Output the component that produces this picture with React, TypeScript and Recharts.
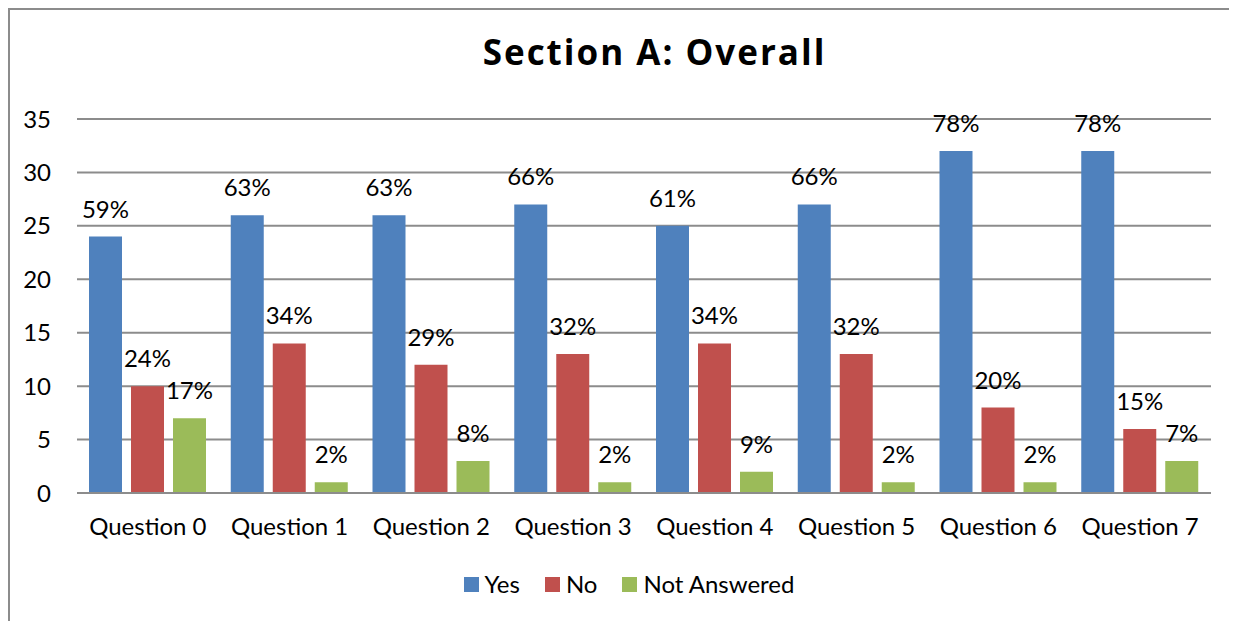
import React from "react"
import { BarChart, Bar, XAxis, YAxis, CartesianGrid, Legend, LabelList } from "recharts"

const categories = ["Question 0", "Question 1", "Question 2", "Question 3", "Question 4", "Question 5", "Question 6", "Question 7"]
const yesCounts = [24, 26, 26, 27, 25, 27, 32, 32]
const noCounts = [10, 14, 12, 13, 14, 13, 8, 6]
const naCounts = [7, 1, 3, 1, 2, 1, 1, 3]
const yesLabels = ["59%", "63%", "63%", "66%", "61%", "66%", "78%", "78%"]
const noLabels = ["24%", "34%", "29%", "32%", "34%", "32%", "20%", "15%"]
const naLabels = ["17%", "2%", "8%", "2%", "9%", "2%", "2%", "7%"]
const seriesNames = ["Yes", "No", "Not Answered"]
const yTicks = [0, 5, 10, 15, 20, 25, 30, 35]

const FONT = "Lato, 'Open Sans', sans-serif"

const data = categories.map((name, i) => ({
  name,
  yes: yesCounts[i],
  no: noCounts[i],
  na: naCounts[i],
  yesPct: yesLabels[i],
  noPct: noLabels[i],
  naPct: naLabels[i],
}))

// keep legend in series order (Recharts sorts by name)
const renderLegend = (props: any) => {
  const items = [...(props.payload || [])].sort(
    (a: any, b: any) => seriesNames.indexOf(a.value) - seriesNames.indexOf(b.value)
  )
  return (
    <div style={{ display: "flex", justifyContent: "center", fontFamily: FONT, fontSize: 24, color: "#000", lineHeight: "28px" }}>
      {items.map((entry: any, index: number) => (
        <div key={index} style={{ display: "flex", alignItems: "center", marginRight: index < items.length - 1 ? 25 : 0 }}>
          <span style={{ display: "inline-block", width: 15, height: 15, background: entry.color, marginRight: 6 }} />
          <span>{entry.value}</span>
        </div>
      ))}
    </div>
  )
}

export default function App() {
  return (
    <div
      style={{
        position: "relative",
        width: 1229,
        height: 613,
        borderTop: "2px solid #8c8c8c",
        borderLeft: "2px solid #8c8c8c",
        boxSizing: "border-box",
        background: "#fff",
      }}
    >
      <div
        style={{
          position: "absolute",
          left: 0,
          width: 1289,
          top: 18,
          textAlign: "center",
          fontFamily: "'Open Sans', sans-serif",
          fontWeight: 700,
          fontSize: 35,
          letterSpacing: 2,
          color: "#000",
        }}
      >
        Section A: Overall
      </div>
      <BarChart
        width={1227}
        height={611}
        data={data}
        margin={{ top: 109, right: 26, bottom: 70, left: 0 }}
        barSize={33}
        barGap={9}
        style={{ position: "absolute", left: 0, top: 0 }}
      >
        <CartesianGrid vertical={false} stroke="#8c8c8c" strokeWidth={2} />
        <XAxis
          dataKey="name"
          tickLine={false}
          axisLine={{ stroke: "#8c8c8c", strokeWidth: 2 }}
          tickSize={0}
          tickMargin={25}
          tick={{ fill: "#000", fontSize: 24, fontFamily: FONT }}
          interval={0}
        />
        <YAxis
          domain={[0, 35]}
          ticks={yTicks}
          width={67}
          tickLine={false}
          axisLine={false}
          tickSize={0}
          tickMargin={26}
          tick={{ fill: "#000", fontSize: 24, fontFamily: FONT }}
        />
        <Legend
          verticalAlign="bottom"
          content={renderLegend}
          wrapperStyle={{ left: 0, width: 1238, top: 560, bottom: "auto" }}
        />
        <Bar dataKey="yes" name="Yes" fill="#4f81bd" isAnimationActive={false}>
          <LabelList dataKey="yesPct" position="top" offset={19} fill="#000" fontSize={24} fontFamily={FONT} />
        </Bar>
        <Bar dataKey="no" name="No" fill="#c0504d" isAnimationActive={false}>
          <LabelList dataKey="noPct" position="top" offset={19} fill="#000" fontSize={24} fontFamily={FONT} />
        </Bar>
        <Bar dataKey="na" name="Not Answered" fill="#9bbb59" isAnimationActive={false}>
          <LabelList dataKey="naPct" position="top" offset={19} fill="#000" fontSize={24} fontFamily={FONT} />
        </Bar>
      </BarChart>
    </div>
  )
}
